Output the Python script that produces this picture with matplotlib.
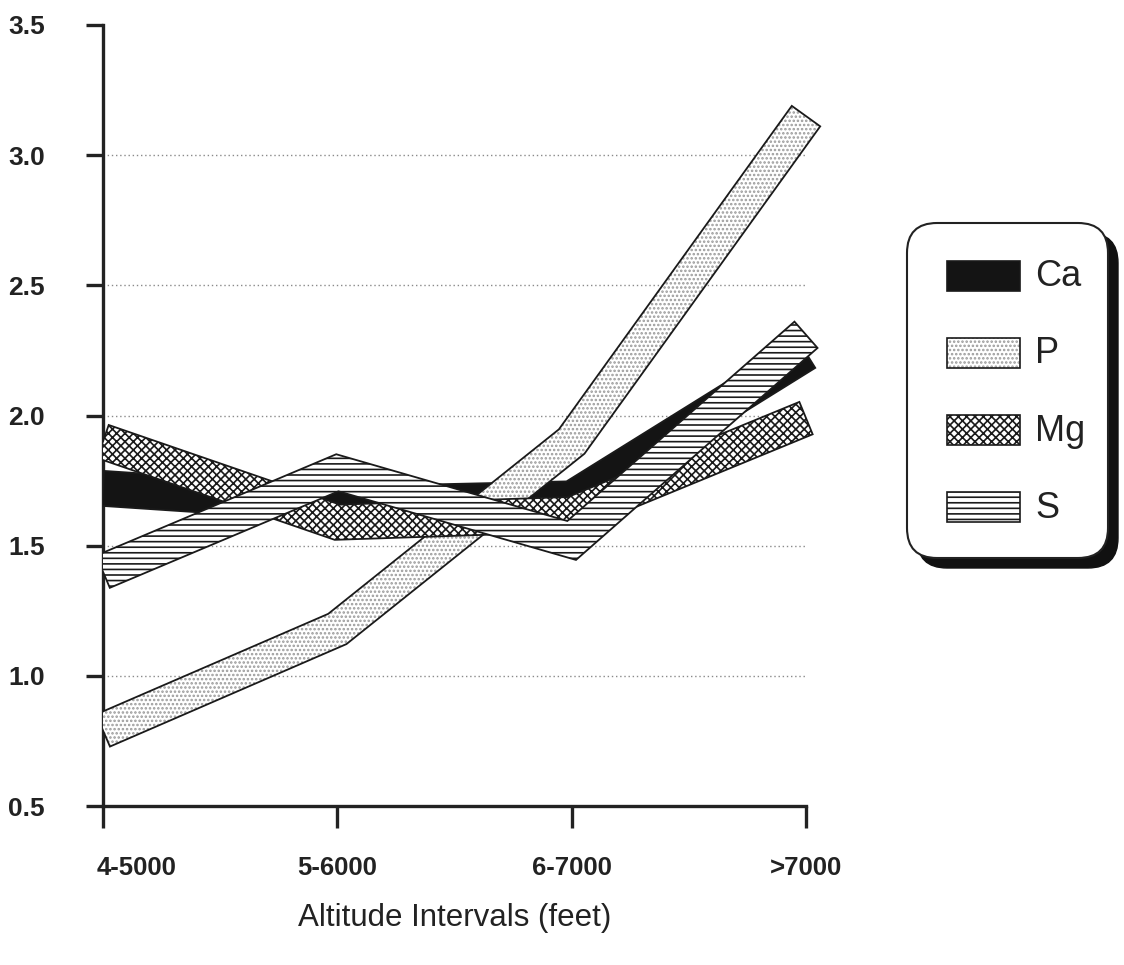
import numpy as np
import matplotlib
matplotlib.use("Agg")
import matplotlib.pyplot as plt
from matplotlib.patches import Polygon, FancyBboxPatch, Rectangle
from matplotlib.transforms import ScaledTranslation

# ---- data ----
categories = ["4-5000", "5-6000", "6-7000", ">7000"]
ca = [1.72, 1.66, 1.68, 2.24]
p = [0.79, 1.18, 1.90, 3.15]
mg = [1.90, 1.59, 1.62, 1.99]
s = [1.40, 1.78, 1.52, 2.31]
series_names = ["Ca", "P", "Mg", "S"]
yticks = [0.5, 1.0, 1.5, 2.0, 2.5, 3.0, 3.5]
ytick_labels = ["0.5", "1.0", "1.5", "2.0", "2.5", "3.0", "3.5"]
xlabel = "Altitude Intervals (feet)"

plt.rcParams['font.family'] = ['Liberation Sans', 'DejaVu Sans']
plt.rcParams['hatch.linewidth'] = 1.2

W, H = 1124, 965
fig = plt.figure(figsize=(W / 100, H / 100), dpi=100)
x_left, x_zero_right = 103, 806
xmax = 3.12
ax_w = (x_zero_right - x_left) * xmax / 3.0
ax = fig.add_axes([x_left / W, (H - 806) / H, ax_w / W, (806 - 25) / H])
ax.set_xlim(0, xmax)
ax.set_ylim(0.5, 3.5)

for sp in ["top", "right"]:
    ax.spines[sp].set_visible(False)
ax.spines["left"].set_linewidth(2.4)
ax.spines["bottom"].set_linewidth(2.4)
ax.spines["bottom"].set_bounds(0, 3)
ax.spines["left"].set_color("#222222")
ax.spines["bottom"].set_color("#222222")

xs = np.arange(len(categories))
ax.set_xticks(xs)
ax.set_xticklabels(categories, fontsize=18.5, fontweight="bold", color="#222222")
ax.set_yticks(yticks)
ax.set_yticklabels(ytick_labels, fontsize=19, fontweight="bold", color="#222222")
ax.tick_params(axis="y", direction="out", length=12, width=2.4, pad=30, color="#222222")
ax.tick_params(axis="x", direction="out", length=16, width=2.4, pad=20, color="#222222")
lbl0 = ax.get_xticklabels()[0]
lbl0.set_ha("left")
lbl0.set_transform(lbl0.get_transform() + ScaledTranslation(-0.06, 0, fig.dpi_scale_trans))

# dotted gridlines
ax.hlines(yticks[1:-1], 0, 3, colors="#8a8a8a", linestyles=(0, (1, 2)), linewidth=1.0, zorder=1)

# ---- ribbons ----
def ribbon(vals, thickness_px=35):
    pts = ax.transData.transform(np.column_stack([xs, vals]))
    n = len(pts)
    normals = []
    for i in range(n - 1):
        d = pts[i + 1] - pts[i]
        d = d / np.hypot(*d)
        normals.append(np.array([-d[1], d[0]]))
    offs = []
    hw = thickness_px / 2
    for i in range(n):
        if i == 0:
            o = normals[0] * hw
        elif i == n - 1:
            o = normals[-1] * hw
        else:
            a, b = normals[i - 1], normals[i]
            m = a + b
            o = m / (1 + np.dot(a, b)) * hw
        offs.append(o)
    offs = np.array(offs)
    upper = pts + offs
    lower = pts - offs
    poly = np.vstack([upper, lower[::-1]])
    return ax.transData.inverted().transform(poly)

styles = {
    "P": dict(face="white", hatch="....", hcol="#9a9a9a"),
    "Ca": dict(face="#141414", hatch=None, hcol="#141414"),
    "Mg": dict(face="white", hatch="xxxx", hcol="#1a1a1a"),
    "S": dict(face="white", hatch="---", hcol="#1a1a1a"),
}
data = {"Ca": ca, "P": p, "Mg": mg, "S": s}
order = ["Ca", "P", "Mg", "S"]
for z, name in enumerate(order):
    verts = ribbon(data[name])
    st = styles[name]
    ax.add_patch(Polygon(verts, closed=True, facecolor=st["face"], hatch=st["hatch"],
                         edgecolor=st["hcol"], linewidth=0, zorder=3 + 2 * z))
    ax.add_patch(Polygon(verts, closed=True, fill=False, edgecolor="#1a1a1a",
                         linewidth=1.3, zorder=4 + 2 * z))

# x label
fig.text(455 / W, 1 - 918 / H, xlabel, fontsize=22.5, ha="center", va="center", color="#222222")

# ---- legend box ----
T = fig.dpi_scale_trans
bx0, by_top, bx1, by_bot = 907, 223, 1108, 558
shadow = FancyBboxPatch(((bx0 + 10) / 100, (H - by_bot - 10) / 100), (bx1 - bx0) / 100, (by_bot - by_top) / 100,
                        boxstyle="round,pad=0,rounding_size=0.3", transform=T,
                        facecolor="#111111", edgecolor="#111111", zorder=20)
box = FancyBboxPatch((bx0 / 100, (H - by_bot) / 100), (bx1 - bx0) / 100, (by_bot - by_top) / 100,
                     boxstyle="round,pad=0,rounding_size=0.3", transform=T,
                     facecolor="white", edgecolor="#222222", linewidth=1.5, zorder=21)
fig.add_artist(shadow)
fig.add_artist(box)
centers = {"Ca": 276, "P": 353, "Mg": 430, "S": 507}
for name in series_names:
    cy = centers[name]
    st = styles[name]
    rect_xy = (947 / 100, (H - cy - 15) / 100)
    fig.add_artist(Rectangle(rect_xy, 0.73, 0.30, transform=T, facecolor=st["face"],
                             hatch=st["hatch"], edgecolor=st["hcol"], linewidth=0, zorder=22))
    fig.add_artist(Rectangle(rect_xy, 0.73, 0.30, transform=T, fill=False,
                             edgecolor="#1a1a1a", linewidth=1.2, zorder=23))
    fig.text(1035 / W, 1 - (cy + 1) / H, name, fontsize=26, ha="left", va="center",
             color="#222222", zorder=24)

fig.savefig("out.png", dpi=100)
